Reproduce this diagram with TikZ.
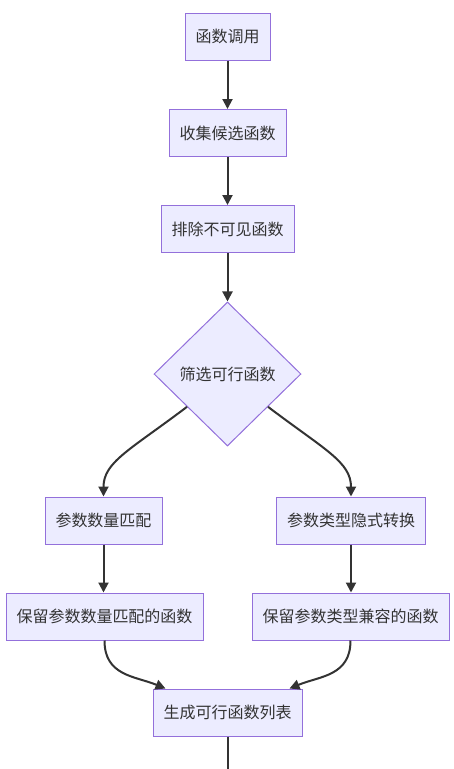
\documentclass[tikz,border=0pt]{standalone}
\usepackage{fontspec}
\setmainfont{Noto Sans CJK SC}
\usetikzlibrary{shapes.geometric,arrows.meta}
\definecolor{nodefill}{HTML}{ECECFF}
\definecolor{nodeline}{HTML}{9370DB}
\definecolor{edgecol}{HTML}{333333}
\begin{document}
\begin{tikzpicture}[x=1pt,y=1pt,
  stepbox/.style={draw=nodeline,fill=nodefill,line width=1pt,inner xsep=10.5pt,inner ysep=0pt,minimum height=47pt,font=\fontsize{16pt}{18pt}\selectfont,text=edgecol},
  decide/.style={diamond,draw=nodeline,fill=nodefill,line width=1pt,minimum width=147pt,minimum height=144pt,inner sep=0pt,font=\fontsize{16pt}{18pt}\selectfont,text=edgecol},
  flow/.style={draw=edgecol,line width=2pt,-{Triangle[length=10pt,width=10pt]}}]
\useasboundingbox (0,0) rectangle (454,-769);
\node[stepbox] (a) at (227.5,-36.5) {函数调用};
\node[stepbox] (b) at (227.5,-133) {收集候选函数};
\node[stepbox] (c) at (227.5,-229) {排除不可见函数};
\node[decide] (d) at (227.5,-374) {筛选可行函数};
\node[stepbox] (e) at (103.5,-520.5) {参数数量匹配};
\node[stepbox] (f) at (351,-520.5) {参数类型隐式转换};
\node[stepbox] (g) at (104.5,-616.5) {保留参数数量匹配的函数};
\node[stepbox] (h) at (350.5,-616.5) {保留参数类型兼容的函数};
\node[stepbox] (i) at (227.5,-712.5) {生成可行函数列表};
\coordinate (z) at (227.5,-769);
\draw[flow] (a) -- (b);
\draw[flow] (b) -- (c);
\draw[flow] (c) -- (d);
\draw[flow] (d.-141) .. controls (130,-450) and (103.5,-462) .. (e.north);
\draw[flow] (d.-39) .. controls (325,-450) and (351,-462) .. (f.north);
\draw[flow] (e.south) -- (e.south |- g.north);
\draw[flow] (f.south) -- (f.south |- h.north);
\draw[flow] (g.south) .. controls (104.5,-676) and (135,-676) .. ([xshift=-62pt]i.north);
\draw[flow] (h.south) .. controls (350.5,-676) and (320,-676) .. ([xshift=62pt]i.north);
\draw[draw=edgecol,line width=2pt] (i) -- (z);
\end{tikzpicture}
\end{document}
